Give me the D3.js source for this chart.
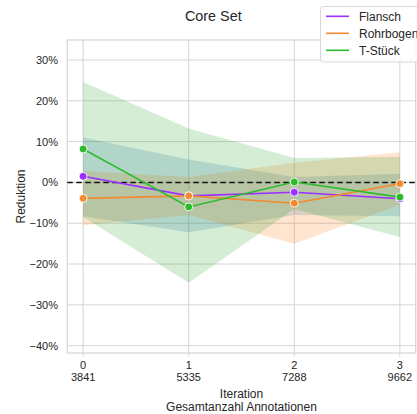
<!DOCTYPE html>
<html><head><meta charset="utf-8">
<script src="https://cdn.jsdelivr.net/npm/d3@7"></script>
<style>body{margin:0;background:#fff}svg{display:block;font-family:"Liberation Sans",Arial,sans-serif}</style>
</head><body><svg id="c" width="417" height="414"></svg>
<script>
const iterations = [0, 1, 2, 3];
const annotations = [3841, 5335, 7288, 9662];
const seriesNames = ["Flansch", "Rohrbogen", "T-Stück"];
const flansch   = [1.5, -3.3, -2.4, -4.0];
const flanschLo = [-8.3, -12.2, -8.0, -8.3];
const flanschHi = [11.0, 5.6, 1.3, 2.1];
const rohr      = [-3.9, -3.3, -5.1, -0.3];
const rohrLo    = [-10.5, -8.0, -15.0, -5.5];
const rohrHi    = [2.8, 1.3, 4.8, 7.4];
const tstueck   = [8.2, -6.0, 0.1, -3.6];
const tstueckLo = [-8.5, -24.6, -6.5, -13.4];
const tstueckHi = [24.6, 13.2, 6.0, 6.2];
const yTicks = [30, 20, 10, 0, -10, -20, -30, -40];

const lineColors = ["#9b30ff", "#f28a32", "#2dbb2d"];
const bandColors = ["#1f77b4", "#ff7f0e", "#2ca02c"];
const series = [
  {name: seriesNames[0], v: flansch, lo: flanschLo, hi: flanschHi},
  {name: seriesNames[1], v: rohr, lo: rohrLo, hi: rohrHi},
  {name: seriesNames[2], v: tstueck, lo: tstueckLo, hi: tstueckHi}
];

const L = 67.3, R = 415.7, T = 40, B = 353;
const svg = d3.select("#c");
const x = d3.scaleLinear().domain([-0.15, 3.15]).range([L, R]);
const y = d3.scaleLinear().domain([-41.8, 34.9]).range([B, T]);
const grid = "#d5d5d5";
const txt = "#262626";

// grid
svg.append("g").selectAll("line").data(yTicks).join("line")
  .attr("x1", L).attr("x2", R).attr("y1", d => y(d)).attr("y2", d => y(d))
  .attr("stroke", grid).attr("stroke-width", 1);
svg.append("g").selectAll("line").data(iterations).join("line")
  .attr("x1", d => x(d)).attr("x2", d => x(d)).attr("y1", T).attr("y2", B + 3.5)
  .attr("stroke", grid).attr("stroke-width", 1);

// bands
series.forEach((s, i) => {
  const area = d3.area().x((d, j) => x(iterations[j])).y0((d, j) => y(s.lo[j])).y1((d, j) => y(s.hi[j]));
  svg.append("path").datum(s.v).attr("d", area).attr("fill", bandColors[i]).attr("fill-opacity", 0.2);
});

// frame
svg.append("rect").attr("x", L).attr("y", T).attr("width", R - L).attr("height", B - T)
  .attr("fill", "none").attr("stroke", grid).attr("stroke-width", 1.2);

// zero line
svg.append("line").attr("x1", L).attr("x2", R).attr("y1", y(0)).attr("y2", y(0))
  .attr("stroke", "#111").attr("stroke-width", 1.5).attr("stroke-dasharray", "5.5,3.5");

// lines + markers
series.forEach((s, i) => {
  const line = d3.line().x((d, j) => x(iterations[j])).y(d => y(d));
  svg.append("path").datum(s.v).attr("d", line).attr("fill", "none")
    .attr("stroke", lineColors[i]).attr("stroke-width", 1.6);
  svg.append("g").selectAll("circle").data(s.v).join("circle")
    .attr("cx", (d, j) => x(iterations[j])).attr("cy", d => y(d)).attr("r", 4)
    .attr("fill", lineColors[i]).attr("stroke", "#fff").attr("stroke-width", 0.9);
});

// y tick labels
svg.append("g").selectAll("text").data(yTicks).join("text")
  .attr("x", 58).attr("y", d => y(d) + 4).attr("text-anchor", "end")
  .attr("font-size", 11).attr("fill", txt)
  .text(d => (d < 0 ? "\u2212" + Math.abs(d) : d) + "%");

// x tick labels (two lines each)
svg.append("g").selectAll("text").data(iterations).join("text")
  .attr("x", d => x(d)).attr("y", 368.5).attr("text-anchor", "middle")
  .attr("font-size", 11).attr("fill", txt).text(d => d);
svg.append("g").selectAll("text").data(annotations).join("text")
  .attr("x", (d, j) => x(iterations[j])).attr("y", 381).attr("text-anchor", "middle")
  .attr("font-size", 11).attr("fill", txt).text(d => d);

// axis labels
const cx = (L + R) / 2;
svg.append("text").attr("x", cx).attr("y", 398.3).attr("text-anchor", "middle")
  .attr("font-size", 12).attr("fill", txt).text("Iteration");
svg.append("text").attr("x", cx).attr("y", 411.2).attr("text-anchor", "middle")
  .attr("font-size", 12).attr("fill", txt).text("Gesamtanzahl Annotationen");
svg.append("text").attr("transform", `translate(25,${(T + B) / 2}) rotate(-90)`)
  .attr("text-anchor", "middle").attr("font-size", 12).attr("fill", txt).text("Reduktion");

// title
svg.append("text").attr("x", 213.3).attr("y", 20.5).attr("text-anchor", "middle")
  .attr("font-size", 14.4).attr("fill", txt).text("Core Set");

// legend
const lg = svg.append("g");
lg.append("rect").attr("x", 320.5).attr("y", 6.5).attr("width", 110).attr("height", 55.5)
  .attr("rx", 3).attr("fill", "#fff").attr("fill-opacity", 0.85).attr("stroke", "#d8d8d8");
series.forEach((s, i) => {
  const yy = 16.3 + i * 17;
  lg.append("line").attr("x1", 326).attr("x2", 349).attr("y1", yy).attr("y2", yy)
    .attr("stroke", lineColors[i]).attr("stroke-width", 1.6);
  lg.append("text").attr("x", 359).attr("y", yy + 4.3).attr("font-size", 12)
    .attr("fill", txt).text(s.name);
});
</script></body></html>
